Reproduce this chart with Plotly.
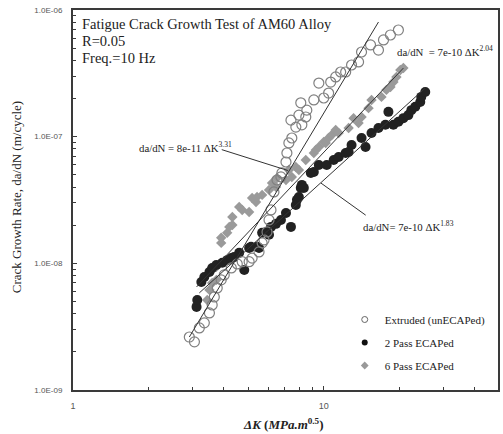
import plotly.graph_objects as go

# ---- data (ΔK in MPa·m^0.5, da/dN in m/cycle) ----
ext_k = [2.91, 3.05, 3.19, 3.34, 3.50, 3.59, 3.66, 3.76, 3.90, 4.01, 4.28, 4.52, 4.73, 5.04, 5.18,
         5.52, 5.68, 5.78, 5.94, 6.05, 6.16, 6.33, 6.51, 6.75, 6.81, 7.07, 7.13, 7.26, 7.46, 7.40,
         7.74, 7.96, 8.10, 8.18, 8.48, 8.56, 9.13, 9.56, 10.0, 10.46, 10.66, 11.16, 11.68, 12.23,
         12.91, 13.77, 14.15, 15.37, 16.53, 17.31, 18.45, 19.85]
ext_rate = [2.62e-9, 2.40e-9, 3.09e-9, 3.39e-9, 4.06e-9, 4.69e-9, 5.43e-9, 6.39e-9, 7.40e-9, 8.10e-9,
            9.20e-9, 9.89e-9, 1.03e-8, 1.03e-8, 1.10e-8, 1.23e-8, 1.45e-8, 1.53e-8, 1.77e-8, 2.20e-8,
            2.64e-8, 3.66e-8, 4.55e-8, 4.81e-8, 5.17e-8, 6.31e-8, 7.43e-8, 8.92e-8, 9.76e-8, 1.35e-7,
            1.19e-7, 1.48e-7, 1.85e-7, 1.24e-7, 1.43e-7, 1.62e-7, 1.95e-7, 2.65e-7, 2.02e-7, 2.21e-7,
            2.70e-7, 2.96e-7, 3.24e-7, 3.24e-7, 3.68e-7, 3.89e-7, 4.66e-7, 5.30e-7, 4.83e-7, 5.80e-7,
            6.35e-7, 6.95e-7]

p2_k = [3.11, 3.13, 3.25, 3.34, 3.50, 3.59, 3.73, 3.94, 4.12, 4.28, 4.39, 4.60, 4.82, 5.04, 5.13,
        5.42, 5.52, 5.68, 5.89, 6.05, 6.16, 6.45, 6.75, 7.07, 7.40, 7.74, 7.82, 7.96, 8.10, 8.18,
        8.33, 8.88, 9.13, 9.56, 10.28, 10.96, 11.47, 12.23, 12.57, 12.91, 14.15, 14.68, 15.51,
        16.53, 17.62, 18.11, 18.96, 19.85, 20.78, 21.75, 22.36, 23.18, 24.26, 24.49, 25.40]
p2_rate = [4.53e-9, 5.14e-9, 7.13e-9, 7.81e-9, 8.55e-9, 9.20e-9, 9.71e-9, 1.01e-8, 1.06e-8, 1.10e-8,
           1.12e-8, 1.21e-8, 8.87e-9, 1.32e-8, 1.35e-8, 1.35e-8, 1.32e-8, 1.74e-8, 1.77e-8, 1.68e-8,
           1.94e-8, 2.05e-8, 2.20e-8, 2.50e-8, 1.94e-8, 2.89e-8, 3.17e-8, 3.34e-8, 3.94e-8, 4.16e-8,
           3.94e-8, 5.17e-8, 5.26e-8, 5.98e-8, 5.98e-8, 6.55e-8, 6.91e-8, 7.43e-8, 7.57e-8, 8.60e-8,
           9.76e-8, 8.29e-8, 1.07e-7, 1.17e-7, 1.24e-7, 1.57e-7, 1.24e-7, 1.31e-7, 1.40e-7, 1.48e-7,
           1.62e-7, 1.72e-7, 1.88e-7, 2.06e-7, 2.25e-7]

p6_k = [3.43, 3.50, 3.59, 3.73, 3.59, 3.73, 3.90, 3.90, 4.12, 4.20, 4.32, 4.32, 4.60, 4.73, 5.04,
        5.18, 5.37, 5.42, 5.68, 6.05, 6.22, 6.45, 6.51, 7.07, 7.26, 7.46, 7.74, 7.96, 8.48, 9.13,
        9.30, 9.56, 10.0, 10.18, 10.46, 10.76, 11.16, 11.47, 12.57, 13.15, 13.77, 14.15, 15.09,
        15.51, 16.99, 17.78, 18.45, 18.96, 19.49, 20.21, 20.78]
p6_rate = [5.14e-9, 6.17e-9, 7.00e-9, 7.40e-9, 8.87e-9, 9.37e-9, 1.45e-8, 1.59e-8, 1.74e-8, 1.94e-8,
           2.01e-8, 2.32e-8, 2.79e-8, 2.64e-8, 2.54e-8, 3.28e-8, 3.05e-8, 3.34e-8, 3.47e-8, 3.80e-8,
           4.31e-8, 4.01e-8, 4.72e-8, 4.55e-8, 5.46e-8, 4.81e-8, 5.76e-8, 5.46e-8, 6.55e-8, 7.43e-8,
           7.85e-8, 8.29e-8, 9.08e-8, 8.92e-8, 9.76e-8, 1.03e-7, 1.13e-7, 1.07e-7, 1.17e-7, 1.40e-7,
           1.28e-7, 1.43e-7, 1.68e-7, 1.95e-7, 2.06e-7, 2.34e-7, 2.47e-7, 2.70e-7, 2.96e-7, 3.36e-7,
           3.48e-7]

# fitted power-law lines (end points)
fit_ext_k = [2.91, 16.53]
fit_ext_rate = [2.62e-9, 8.04e-7]
fit_p6_k = [3.11, 20.78]
fit_p6_rate = [6.51e-9, 3.48e-7]
fit_p2_k = [3.19, 25.40]
fit_p2_rate = [5.84e-9, 2.42e-7]

# annotation leader lines
lead_331_k = [3.92, 7.20]
lead_331_rate = [7.9e-8, 5.4e-8]
lead_183_k = [9.75, 14.7]
lead_183_rate = [4.3e-8, 2.4e-8]

names = ["Extruded (unECAPed)", "2 Pass ECAPed", "6 Pass ECAPed"]
title_lines = ["Fatigue Crack Growth Test of AM60 Alloy", "R=0.05", "Freq.=10 Hz"]
x_ticks = [1, 10]
x_ticklabels = ["1", "10"]
x_minor = [2, 3, 4, 5, 6, 7, 8, 9, 20, 30, 40]
y_ticks = [1e-9, 1e-8, 1e-7, 1e-6]
y_ticklabels = ["1.0E-09", "1.0E-08", "1.0E-07", "1.0E-06"]
y_minor = [m * 10.0 ** e for e in (-9, -8, -7) for m in range(2, 10)]

SERIF = "Liberation Serif, Times New Roman, serif"
SANS = "Liberation Sans, Arial, sans-serif"

fig = go.Figure()

fig.add_trace(go.Scatter(x=p6_k, y=p6_rate, mode="markers", showlegend=False,
                         marker=dict(symbol="diamond", size=8, color="#9a9a9a")))
fig.add_trace(go.Scatter(x=p2_k, y=p2_rate, mode="markers", showlegend=False,
                         marker=dict(symbol="circle", size=10, color="#222222")))
fig.add_trace(go.Scatter(x=ext_k, y=ext_rate, mode="markers", showlegend=False,
                         marker=dict(symbol="circle-open", size=10, color="#808080",
                                     line=dict(width=1.2, color="#808080"))))

for kx, ry in [(fit_ext_k, fit_ext_rate), (fit_p6_k, fit_p6_rate), (fit_p2_k, fit_p2_rate),
               (lead_331_k, lead_331_rate), (lead_183_k, lead_183_rate)]:
    fig.add_trace(go.Scatter(x=kx, y=ry, mode="lines", showlegend=False,
                             line=dict(color="#333333", width=1)))

# legend-only traces with small symbols
leg_style = [dict(symbol="circle-open", size=6, color="#666666", line=dict(width=1, color="#666666")),
             dict(symbol="circle", size=6, color="#111111"),
             dict(symbol="diamond", size=6, color="#999999")]
for i, (nm, st) in enumerate(zip(names, leg_style)):
    fig.add_trace(go.Scatter(x=[None], y=[None], mode="markers", name=nm, marker=st,
                             legendgroup=str(i), showlegend=True))

axis_line = dict(showline=True, linecolor="#3a3a3a", linewidth=2, mirror=True,
                 showgrid=False, zeroline=False)

fig.update_xaxes(type="log", range=[0, 1.695], tickvals=x_ticks, ticktext=x_ticklabels,
                 ticks="inside", ticklen=4, tickcolor="#3a3a3a",
                 tickfont=dict(family=SANS, size=9, color="#555555"),
                 ticklabelstandoff=6,
                 minor=dict(tickvals=x_minor, ticks="inside", ticklen=3, tickcolor="#3a3a3a"),
                 **axis_line)
fig.update_yaxes(type="log", range=[-9, -6], tickvals=y_ticks, ticktext=y_ticklabels,
                 ticks="inside", ticklen=4, tickcolor="#3a3a3a",
                 tickfont=dict(family=SANS, size=8, color="#555555"),
                 ticklabelstandoff=7,
                 minor=dict(tickvals=y_minor, ticks="inside", ticklen=3, tickcolor="#3a3a3a"),
                 **axis_line)

W, H = 503, 434
L, R, T, B = 73, 3, 10, 44
def px(xp):
    return (xp - L) / (W - L - R)
def py(yp):
    return (H - B - yp) / (H - T - B)

ann = []
for line, yc in zip(title_lines, [24, 41, 58]):
    ann.append(dict(x=px(80), y=py(yc), xref="paper", yref="paper", xanchor="left",
                    yanchor="middle", showarrow=False, text=line,
                    font=dict(family=SERIF, size=14.5, color="#222222")))
ann.append(dict(x=px(397), y=py(51), xref="paper", yref="paper", xanchor="left", yanchor="middle",
                showarrow=False, text="da/dN  = 7e-10 ΔK<sup>2.04</sup>",
                font=dict(family=SERIF, size=10.8, color="#222222")))
ann.append(dict(x=px(137), y=py(147), xref="paper", yref="paper", xanchor="left", yanchor="middle",
                showarrow=False, text="da/dN = 8e-11 ΔK<sup>3.31</sup>",
                font=dict(family=SERIF, size=10.8, color="#222222")))
ann.append(dict(x=px(362), y=py(226), xref="paper", yref="paper", xanchor="left", yanchor="middle",
                showarrow=False, text="da/dN= 7e-10 ΔK<sup>1.83</sup>",
                font=dict(family=SERIF, size=10.8, color="#222222")))
ann.append(dict(x=px(16), y=py(197), xref="paper", yref="paper", xanchor="center", yanchor="middle",
                showarrow=False, textangle=-90, text="Crack Growth Rate, da/dN (m/cycle)",
                font=dict(family=SERIF, size=13, color="#222222")))
ann.append(dict(x=px(284), y=py(424), xref="paper", yref="paper", xanchor="center", yanchor="middle",
                showarrow=False, text="<b><i>ΔK</i> (<i>MPa.m</i><sup>0.5</sup>)</b>",
                font=dict(family=SERIF, size=13, color="#222222")))

fig.update_layout(
    width=W, height=H,
    margin=dict(l=L, r=R, t=T, b=B, pad=0),
    paper_bgcolor="white", plot_bgcolor="white",
    annotations=ann,
    legend=dict(x=px(346), y=py(305), xanchor="left", yanchor="top",
                font=dict(family=SERIF, size=11, color="#222222"),
                bgcolor="rgba(0,0,0,0)", tracegroupgap=4, itemwidth=30),
)

fig.write_html("out.html", config={"displayModeBar": False},
               post_script="document.body.style.margin='0';")
